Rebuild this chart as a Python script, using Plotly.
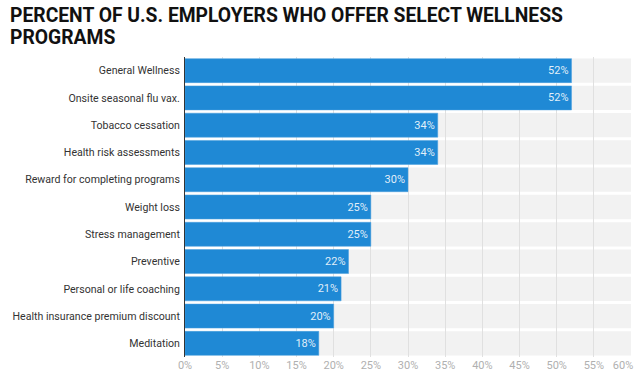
import plotly.graph_objects as go

categories = [
    "General Wellness",
    "Onsite seasonal flu vax.",
    "Tobacco cessation",
    "Health risk assessments",
    "Reward for completing programs",
    "Weight loss",
    "Stress management",
    "Preventive",
    "Personal or life coaching",
    "Health insurance premium discount",
    "Meditation",
]
values = [52, 52, 34, 34, 30, 25, 25, 22, 21, 20, 18]
tick_vals = [0, 5, 10, 15, 20, 25, 30, 35, 40, 45, 50, 55, 60]
tick_text = [f"{v}%" for v in tick_vals]
x_max = 60
title_lines = ["PERCENT OF U.S. EMPLOYERS WHO OFFER SELECT WELLNESS", "PROGRAMS"]

W, H = 640, 382
M_L, M_R, M_T, M_B = 185, 9, 57, 25
plot_h = H - M_T - M_B
n = len(categories)

tick_font = dict(family="Roboto", size=11, color="#b0b0b0")

fig = go.Figure()
fig.add_trace(go.Bar(
    x=values,
    y=categories,
    orientation="h",
    marker=dict(color="#1f89d5", line=dict(color="#4aa0e0", width=0.5)),
    text=[f"{v}%" for v in values],
    textposition="inside",
    insidetextanchor="end",
    textfont=dict(family="Roboto", size=11, color="rgba(255,255,255,0.88)"),
    hoverinfo="skip",
))
# invisible helper trace so the overlaying axis (last tick label) is drawn
fig.add_trace(go.Scatter(
    x=[x_max], y=[categories[-1]], xaxis="x2", yaxis="y",
    mode="markers", marker=dict(opacity=0), hoverinfo="skip", showlegend=False,
))

# light gray row bands behind each category
for i, c in enumerate(categories):
    fig.add_shape(
        type="rect", xref="x", yref="y",
        x0=0, x1=x_max, y0=i - 0.445, y1=i + 0.445,
        fillcolor="#f2f2f2", line_width=0, layer="below",
    )

# title as two lines (tight line spacing)
for line, center_px in zip(title_lines, [15.9, 37.5]):
    fig.add_annotation(
        text=f"<b>{line}</b>", showarrow=False,
        xref="paper", yref="paper",
        x=0, xshift=8 - M_L, xanchor="left",
        y=1 + (M_T - center_px) / plot_h, yanchor="middle",
        font=dict(family="Roboto", size=19.3, color="#111111"),
    )

fig.update_layout(
    width=W, height=H,
    margin=dict(l=M_L, r=M_R, t=M_T, b=M_B),
    paper_bgcolor="white", plot_bgcolor="white",
    bargap=0.12,
    showlegend=False,
    font=dict(family="Roboto"),
    xaxis=dict(
        range=[0, x_max], tickvals=tick_vals[:-1], ticktext=tick_text[:-1],
        showgrid=True, gridcolor="#e0e0e0", gridwidth=1,
        zeroline=False, showline=False, tickfont=tick_font,
        ticks="", fixedrange=True, automargin=False,
    ),
    # last tick label drawn on an overlaying axis so it can be nudged inside the page
    xaxis2=dict(
        overlaying="x", side="bottom", anchor="y",
        range=[0, x_max], tickvals=tick_vals[-1:], ticktext=tick_text[-1:],
        ticklabelshift=-8, ticklabeloverflow="allow",
        showgrid=False, zeroline=False, showline=False,
        tickfont=tick_font, ticks="", fixedrange=True, automargin=False,
    ),
    yaxis=dict(
        categoryorder="array", categoryarray=categories,
        range=[n - 0.5, -0.5], autorange=False, fixedrange=True,
        showline=True, linecolor="#333333", linewidth=1,
        showgrid=False, ticks="", ticklabelstandoff=2, automargin=False,
        tickfont=dict(family="Roboto", size=10.6, color="#333333"),
    ),
)

fig.write_html(
    "out.html",
    config={"displayModeBar": False},
    post_script="document.body.style.margin='0';document.body.style.overflow='hidden';",
)
